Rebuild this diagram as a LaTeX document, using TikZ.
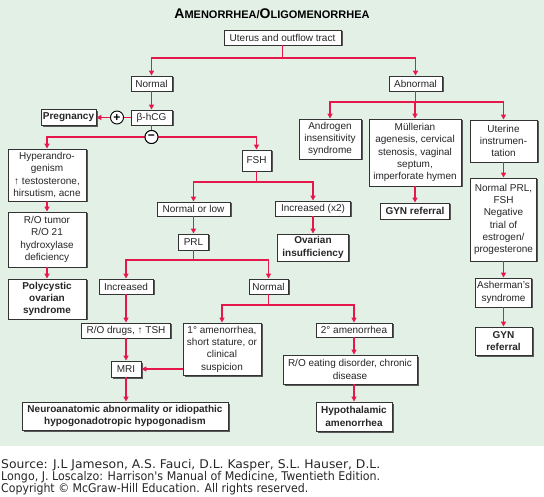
\documentclass[tikz,border=0pt]{standalone}
\usepackage{fontspec}
\usepackage{graphicx}
\setmainfont{Liberation Sans}
\newfontfamily\srcfont{DejaVu Sans}
\usetikzlibrary{shadows,arrows.meta}
\definecolor{bgc}{RGB}{226,240,230}
\definecolor{arc}{RGB}{229,23,75}
\newcommand\fitline[2]{\resizebox{#1}{\height}{#2}}
\begin{document}
\begin{tikzpicture}[x=1pt,y=-1pt,
  box/.style={draw=black!80, line width=0.9pt, fill=white, align=center, inner sep=1pt,
    font=\fontsize{10}{12.3}\selectfont, text=black!85,
    drop shadow={shadow xshift=1.5pt, shadow yshift=-1.5pt, fill=black!65, opacity=1}},
  bbox/.style={box, font=\fontsize{10}{12.3}\selectfont\bfseries},
  sz/.style 2 args={minimum width=#1pt, minimum height=#2pt},
  sign/.style={circle, draw=black, line width=0.9pt, fill=white, inner sep=0pt, minimum size=13pt, font=\bfseries\fontsize{12}{12}\selectfont},
  ln/.style={draw=arc, line width=1.5pt},
  ar/.style={ln, -{Triangle[length=5pt,width=5pt]}}]
\useasboundingbox (0,0) rectangle (544,497);
\fill[bgc] (0,0) rectangle (544,446);
\node[text=black] (title) at (272,14) {\bfseries\fontsize{14}{14}\selectfont A\fontsize{11}{11}\selectfont MENORRHEA/\fontsize{14}{14}\selectfont O\fontsize{11}{11}\selectfont LIGOMENORRHEA};
% boxes
\node[box, sz={117}{15}] (uterus) at (282.5,37.5) {Uterus and outflow tract};
\node[box, sz={41}{15}] (normal1) at (151.5,83.5) {Normal};
\node[box, sz={53}{15}] (abnormal) at (415.5,83.5) {Abnormal};
\node[box, sz={41}{15}] (bhcg) at (151.5,117.5) {β-hCG};
\node[bbox, sz={55}{16}] (preg) at (68.5,117.5) {Pregnancy};
\node[sign] (plus) at (117,117.5) {+};
\node[sign] (minus) at (151.5,137) {−};
\node[box, sz={78}{52}] (hyper) at (47,175) {Hyperandro-\\genism\\↑ testosterone,\\hirsutism, acne};
\node[box, sz={29}{21}] (fsh) at (256.5,160.5) {FSH};
\node[box, sz={78}{55}] (rotumor) at (47,239.5) {R/O tumor\\R/O 21\\hydroxylase\\deficiency};
\node[bbox, sz={78}{40}] (pcos) at (47,299) {Polycystic\\ovarian\\syndrome};
\node[box, sz={73}{14}] (normlow) at (193.5,209) {Normal or low};
\node[box, sz={75}{15}] (incx2) at (313,208.5) {Increased (x2)};
\node[box, sz={30}{16}] (prl) at (193.5,242) {PRL};
\node[bbox, sz={71}{27}] (ovins) at (313,247.5) {Ovarian\\insufficiency};
\node[box, sz={54}{15}] (incr) at (126,286.5) {Increased};
\node[box, sz={39}{15}] (normal2) at (268.5,286.5) {Normal};
\node[box, sz={89}{15}] (rodrugs) at (126,330.5) {R/O drugs, ↑ TSH};
\node[box, sz={78}{52}] (prim) at (222,349) {1° amenorrhea,\\short stature, or\\clinical\\suspicion};
\node[box, sz={30}{16}] (mri) at (126,369) {MRI};
\node[bbox, sz={206}{28}] (neuro) at (125,416) {Neuroanatomic abnormality or idiopathic\\hypogonadotropic hypogonadism};
\node[box, sz={76}{14}] (sec) at (354,330) {2° amenorrhea};
\node[box, sz={134}{29}] (roeat) at (350,369.5) {R/O eating disorder, chronic\\disease};
\node[bbox, sz={76}{29}] (hypoth) at (354,416.5) {Hypothalamic\\amenorrhea};
\node[box, sz={62}{40}] (andro) at (330,139) {Androgen\\insensitivity\\syndrome};
\node[box, sz={92}{67}] (mull) at (415,152.5) {Müllerian\\agenesis, cervical\\stenosis, vaginal\\septum,\\imperforate hymen};
\node[box, sz={67}{42}] (uterine) at (503.5,141) {Uterine\\instrumen-\\tation};
\node[bbox, sz={69}{16}] (gyn1) at (415,211) {GYN referral};
\node[box, sz={66}{83}] (normprl) at (503.5,219.5) {Normal PRL,\\FSH\\Negative\\trial of\\estrogen/\\progesterone};
\node[box, sz={56}{29}] (asher) at (503.5,292.5) {Asherman's\\syndrome};
\node[bbox, sz={57}{28}] (gyn2) at (503.5,341) {GYN\\referral};
% junctions
\coordinate (j1) at (282.5,58);
\coordinate (j2) at (415.5,102);
\coordinate (j3) at (256.5,182);
\coordinate (j4) at (193.5,260);
\coordinate (j5) at (268.5,305);
% connectors
\draw[ln] (uterus) -- (j1);
\draw[ar] (j1) -| (normal1);
\draw[ar] (j1) -| (abnormal);
\draw[ar] (normal1) -- (bhcg);
\draw[ln] (bhcg) -- (plus);
\draw[ar] (plus) -- (preg);
\draw[ln] (bhcg) -- (minus);
\draw[ar] (minus) -| (hyper);
\draw[ar] (minus) -| (fsh);
\node[sign] at (minus) {−};
\draw[ar] (hyper) -- (rotumor);
\draw[ar] (rotumor) -- (pcos);
\draw[ln] (fsh) -- (j3);
\draw[ar] (j3) -| (normlow);
\draw[ar] (j3) -| (incx2);
\draw[ar] (normlow) -- (prl);
\draw[ar] (incx2) -- (ovins);
\draw[ln] (prl) -- (j4);
\draw[ar] (j4) -| (incr);
\draw[ar] (j4) -| (normal2);
\draw[ar] (incr) -- (rodrugs);
\draw[ar] (rodrugs) -- (mri);
\draw[ar] (mri) -- (mri |- neuro.north);
\draw[ln] (normal2) -- (j5);
\draw[ar] (j5) -| (prim);
\draw[ar] (j5) -| (sec);
\draw[ar] (prim.west |- mri) -- (mri.east);
\draw[ar] (sec) -- (sec |- roeat.north);
\draw[ar] (sec |- roeat.south) -- (sec |- hypoth.north);
\draw[ln] (abnormal) -- (j2);
\draw[ar] (j2) -| (andro);
\draw[ar] (j2) -| (mull);
\draw[ar] (j2) -| (uterine);
\draw[ar] (mull) -- (gyn1);
\draw[ar] (uterine) -- (normprl);
\draw[ar] (normprl) -- (asher);
\draw[ar] (asher) -- (gyn2);
% source
\node[anchor=north west, align=left, inner sep=0pt, text=black!85, font=\srcfont\fontsize{12}{12}\selectfont] (src) at (1,459.5) {\fitline{379pt}{Source: J.L Jameson, A.S. Fauci, D.L. Kasper, S.L. Hauser, D.L.}\\\fitline{379pt}{Longo, J. Loscalzo: Harrison's Manual of Medicine, Twentieth Edition.}\\\fitline{307pt}{Copyright © McGraw-Hill Education. All rights reserved.}};
\end{tikzpicture}
\end{document}
